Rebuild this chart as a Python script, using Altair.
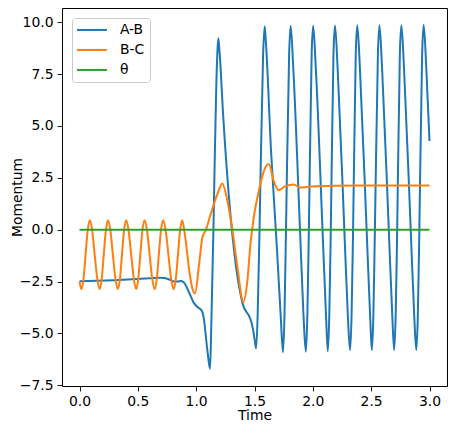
import altair as alt
import pandas as pd

# ---- data ----
ab_t = [0.000, 0.150, 0.300, 0.450, 0.600, 0.685, 0.730, 0.770, 0.812, 0.845,
        0.870, 0.898, 0.940, 0.983, 1.010, 1.035, 1.054, 1.070, 1.082, 1.100,
        1.119, 1.128, 1.138, 1.148, 1.160, 1.172, 1.183, 1.190, 1.200, 1.233,
        1.296, 1.353, 1.380, 1.404, 1.430, 1.452, 1.470, 1.486, 1.500, 1.514,
        1.527, 1.543, 1.574, 1.587, 1.597, 1.642, 1.693, 1.725, 1.744, 1.757,
        1.770, 1.797, 1.810, 1.833, 1.890, 1.920, 1.940, 1.953, 1.966, 1.990,
        2.003, 2.026, 2.083, 2.113, 2.128, 2.141, 2.154, 2.177, 2.190, 2.213,
        2.270, 2.300, 2.319, 2.332, 2.345, 2.368, 2.381, 2.404, 2.461, 2.491,
        2.506, 2.519, 2.532, 2.558, 2.571, 2.594, 2.651, 2.681, 2.697, 2.710,
        2.723, 2.746, 2.759, 2.782, 2.839, 2.869, 2.887, 2.900, 2.913, 2.937,
        2.950, 2.973, 3.000]
ab_v = [-2.48, -2.46, -2.43, -2.39, -2.34, -2.31, -2.33, -2.40, -2.50, -2.49,
        -2.47, -2.56, -3.03, -3.55, -3.72, -3.82, -3.98, -4.45, -5.09, -6.00,
        -6.70, -5.00, -2.50, 0.00, 3.60, 6.80, 8.70, 9.22, 8.60, 5.35,
        0.60, -2.24, -3.10, -3.67, -3.95, -4.14, -4.40, -4.77, -5.25, -5.72,
        -4.14, 0.00, 8.50, 9.80, 9.10, 3.77, -0.98, -4.20, -5.90, -4.14,
        0.00, 8.50, 9.82, 7.72, 0.00, -4.14, -5.88, -4.14, 0.00, 8.50,
        9.82, 7.72, 0.00, -4.14, -5.85, -4.14, 0.00, 8.50, 9.84, 7.72,
        0.00, -4.14, -5.80, -4.14, 0.00, 8.50, 9.85, 7.72, 0.00, -4.14,
        -5.80, -4.14, 0.00, 8.50, 9.85, 7.72, 0.00, -4.14, -5.80, -4.14,
        0.00, 8.50, 9.85, 7.72, 0.00, -4.14, -5.80, -4.14, 0.00, 8.50,
        9.87, 7.72, 4.27]

bc_t = [0.000, 0.017, 0.035, 0.052, 0.070, 0.088, 0.109, 0.130, 0.152, 0.173,
        0.191, 0.208, 0.226, 0.244, 0.265, 0.286, 0.308, 0.329, 0.347, 0.364,
        0.382, 0.400, 0.421, 0.443, 0.465, 0.486, 0.504, 0.521, 0.539, 0.557,
        0.579, 0.601, 0.623, 0.645, 0.663, 0.680, 0.698, 0.716, 0.739, 0.762,
        0.785, 0.808, 0.826, 0.844, 0.862, 0.880, 0.905, 0.940, 0.968, 0.990,
        1.026, 1.054, 1.082, 1.125, 1.182, 1.224, 1.262, 1.310, 1.353, 1.404,
        1.437, 1.466, 1.494, 1.537, 1.580, 1.622, 1.665, 1.708, 1.765, 1.835,
        1.892, 1.990, 2.390, 3.000]
bc_v = [-2.50, -2.87, -2.35, -1.20, -0.05, 0.45, -0.05, -1.20, -2.35, -2.87,
        -2.35, -1.20, -0.05, 0.45, -0.05, -1.20, -2.35, -2.87, -2.35, -1.20,
        -0.05, 0.45, -0.05, -1.20, -2.35, -2.87, -2.35, -1.20, -0.05, 0.45,
        -0.05, -1.20, -2.35, -2.87, -2.35, -1.20, -0.05, 0.45, -0.05, -1.20,
        -2.35, -2.87, -2.35, -1.20, -0.05, 0.45, -0.30, -1.93, -2.85, -3.07,
        -1.61, -0.35, -0.03, 0.76, 1.71, 2.23, 1.55, 0.00, -1.77, -3.48,
        -2.56, -0.66, 0.60, 1.87, 2.82, 3.16, 2.34, 1.90, 2.10, 2.18,
        2.03, 2.08, 2.13, 2.13]

theta_t = [0.0, 3.0]
theta_v = [0.0, 0.0]

series_names = ["A-B", "B-C", "θ"]
series_colors = ["#1f77b4", "#ff7f0e", "#2ca02c"]
x_ticks = [0.0, 0.5, 1.0, 1.5, 2.0, 2.5, 3.0]
y_ticks = [-7.5, -5.0, -2.5, 0.0, 2.5, 5.0, 7.5, 10.0]

frames = []
for name, ts, vs in zip(series_names, [ab_t, bc_t, theta_t], [ab_v, bc_v, theta_v]):
    frames.append(pd.DataFrame({"t": ts, "v": vs, "series": name}))
df = pd.concat(frames, ignore_index=True)

FONT = "DejaVu Sans"
FS = 13.9

x_enc = alt.X("t:Q", title="Time",
              scale=alt.Scale(domain=[-0.15, 3.15], nice=False, zero=False),
              axis=alt.Axis(values=x_ticks, format=".1f", titlePadding=1,
                            labelPadding=3))
y_enc = alt.Y("v:Q", title="Momentum",
              scale=alt.Scale(domain=[-7.53, 10.68], nice=False, zero=False),
              axis=alt.Axis(values=y_ticks, format=".1f", titleX=-41,
                            titleBaseline="alphabetic", labelPadding=4))
c_enc = alt.Color("series:N", title=None,
                  scale=alt.Scale(domain=series_names, range=series_colors),
                  legend=alt.Legend(orient="top-left", offset=10))

layers = []
for name in series_names:
    layers.append(
        alt.Chart(df)
        .transform_filter(alt.datum.series == name)
        .mark_line(strokeWidth=2, interpolate="monotone", clip=True)
        .encode(x=x_enc, y=y_enc, color=c_enc, order=alt.Order("t:Q"))
    )

chart = (
    alt.layer(*layers)
    .properties(width=385, height=378,
                autosize=alt.AutoSizeParams(type="none"),
                padding={"left": 54, "top": 0, "right": 1, "bottom": 37})
    .configure_view(stroke="black", strokeWidth=1)
    .configure_axis(domain=False, grid=False, tickSize=5, tickWidth=0.9,
                    tickColor="black", labelColor="black", labelFont=FONT,
                    labelFontSize=FS, titleFont=FONT,
                    titleFontSize=FS, titleFontWeight="normal",
                    titleColor="black")
    .configure_legend(symbolType="M-1.4,0H4.6", symbolSize=100, symbolStrokeWidth=2,
                      labelFont=FONT, labelFontSize=FS, labelColor="black",
                      labelOffset=29, padding=5, rowPadding=5,
                      strokeColor="#cccccc", fillColor="rgba(255,255,255,0.8)",
                      cornerRadius=3)
)

chart.save("out.html", embed_options={"renderer": "svg", "actions": False})
